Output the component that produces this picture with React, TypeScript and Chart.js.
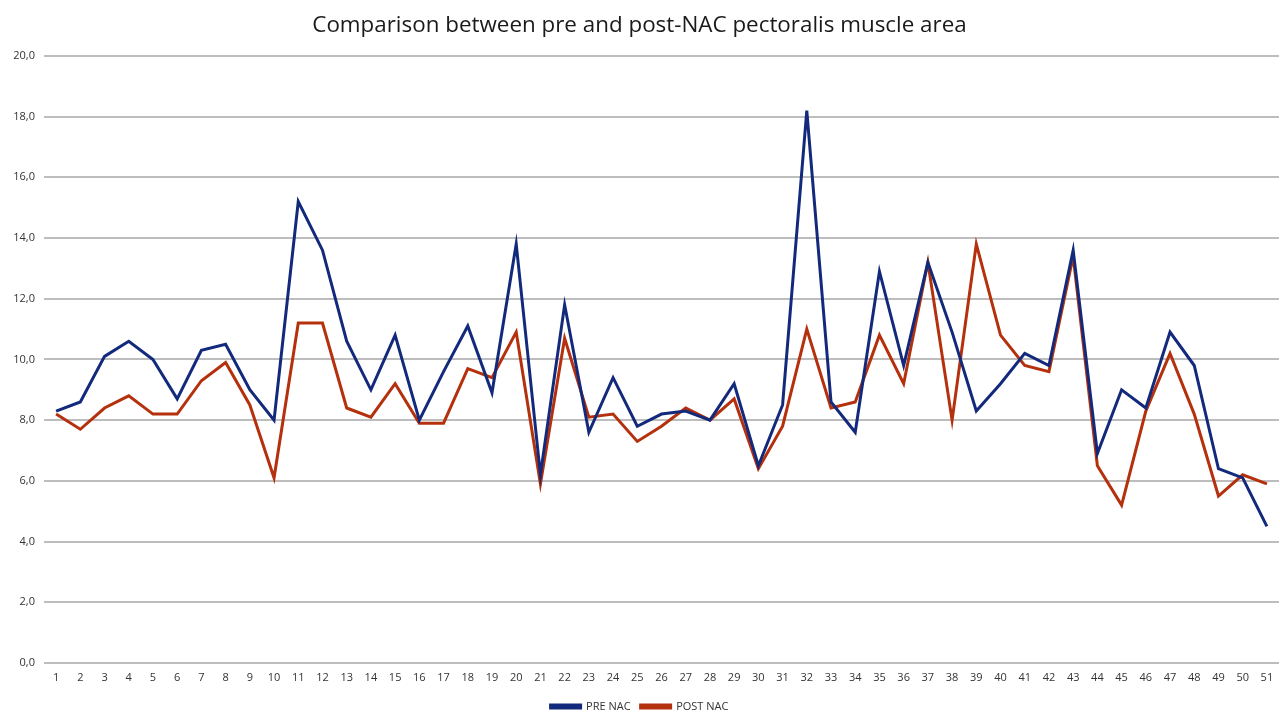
import React, { useEffect, useRef } from "react";
import { Chart, registerables } from "chart.js";

Chart.register(...registerables);

// Patient index 1..51
const patients: string[] = Array.from({ length: 51 }, (_, i) => String(i + 1));

// Pectoralis muscle area before neoadjuvant chemotherapy
const preNac: number[] = [
  8.3, 8.6, 10.1, 10.6, 10.0, 8.7, 10.3, 10.5, 9.0, 8.0,
  15.2, 13.6, 10.6, 9.0, 10.8, 8.0, 9.6, 11.1, 8.9, 13.8,
  6.2, 11.8, 7.6, 9.4, 7.8, 8.2, 8.3, 8.0, 9.2, 6.5,
  8.5, 18.2, 8.6, 7.6, 12.9, 9.8, 13.2, 10.9, 8.3, 9.2,
  10.2, 9.8, 13.6, 6.9, 9.0, 8.4, 10.9, 9.8, 6.4, 6.1,
  4.5,
];

// Pectoralis muscle area after neoadjuvant chemotherapy
const postNac: number[] = [
  8.2, 7.7, 8.4, 8.8, 8.2, 8.2, 9.3, 9.9, 8.5, 6.1,
  11.2, 11.2, 8.4, 8.1, 9.2, 7.9, 7.9, 9.7, 9.4, 10.9,
  5.9, 10.7, 8.1, 8.2, 7.3, 7.8, 8.4, 8.0, 8.7, 6.4,
  7.8, 11.0, 8.4, 8.6, 10.8, 9.2, 13.2, 8.0, 13.8, 10.8,
  9.8, 9.6, 13.4, 6.5, 5.2, 8.3, 10.2, 8.2, 5.5, 6.2,
  5.9,
];

const yTicks: number[] = [0, 2, 4, 6, 8, 10, 12, 14, 16, 18, 20];

const PRE_COLOR = "#132a7c";
const POST_COLOR = "#b5300c";
const FONT = "'Open Sans', 'Liberation Sans', sans-serif";

export default function App() {
  const canvasRef = useRef<HTMLCanvasElement | null>(null);

  useEffect(() => {
    document.body.style.margin = "0";
    const canvas = canvasRef.current;
    if (!canvas) return;

    const chart = new Chart(canvas, {
      type: "line",
      data: {
        labels: patients,
        datasets: [
          {
            label: "PRE NAC",
            data: preNac,
            borderColor: PRE_COLOR,
            backgroundColor: PRE_COLOR,
            borderWidth: 3,
            pointRadius: 0,
            tension: 0,
          },
          {
            label: "POST NAC",
            data: postNac,
            borderColor: POST_COLOR,
            backgroundColor: POST_COLOR,
            borderWidth: 3,
            pointRadius: 0,
            tension: 0,
          },
        ],
      },
      options: {
        responsive: false,
        animation: false,
        layout: { padding: { left: 0, right: 1, top: 0, bottom: -7 } },
        plugins: {
          title: {
            display: true,
            text: "Comparison between pre and post-NAC pectoralis muscle area",
            color: "#1a1a1a",
            font: { family: FONT, size: 22.4, weight: "normal" },
            padding: { top: 12, bottom: 17 },
          },
          legend: {
            position: "bottom",
            labels: {
              boxWidth: 30,
              boxHeight: 3,
              padding: 10,
              color: "#333333",
              font: { family: FONT, size: 11 },
            },
          },
          tooltip: { enabled: false },
        },
        scales: {
          x: {
            offset: true,
            grid: { display: false },
            border: { display: false },
            ticks: {
              color: "#333333",
              font: { family: FONT, size: 11 },
              maxRotation: 0,
              autoSkip: false,
              padding: 0,
            },
            afterFit: (scale: any) => {
              scale.height = 28;
            },
          },
          y: {
            min: 0,
            max: 20,
            afterBuildTicks: (scale: any) => {
              scale.ticks = yTicks.map((v) => ({ value: v }));
            },
            grid: {
              color: "#bdbdbd",
              lineWidth: 2,
              drawTicks: false,
            },
            border: { display: false },
            ticks: {
              color: "#333333",
              font: { family: FONT, size: 11 },
              padding: 9,
              callback: (v: any) => Number(v).toFixed(1).replace(".", ","),
            },
            afterFit: (scale: any) => {
              scale.width = 44;
            },
          },
        },
      },
    });

    return () => chart.destroy();
  }, []);

  return (
    <div style={{ width: 1280, height: 715, background: "#ffffff" }}>
      <canvas ref={canvasRef} width={1280} height={715} />
    </div>
  );
}
